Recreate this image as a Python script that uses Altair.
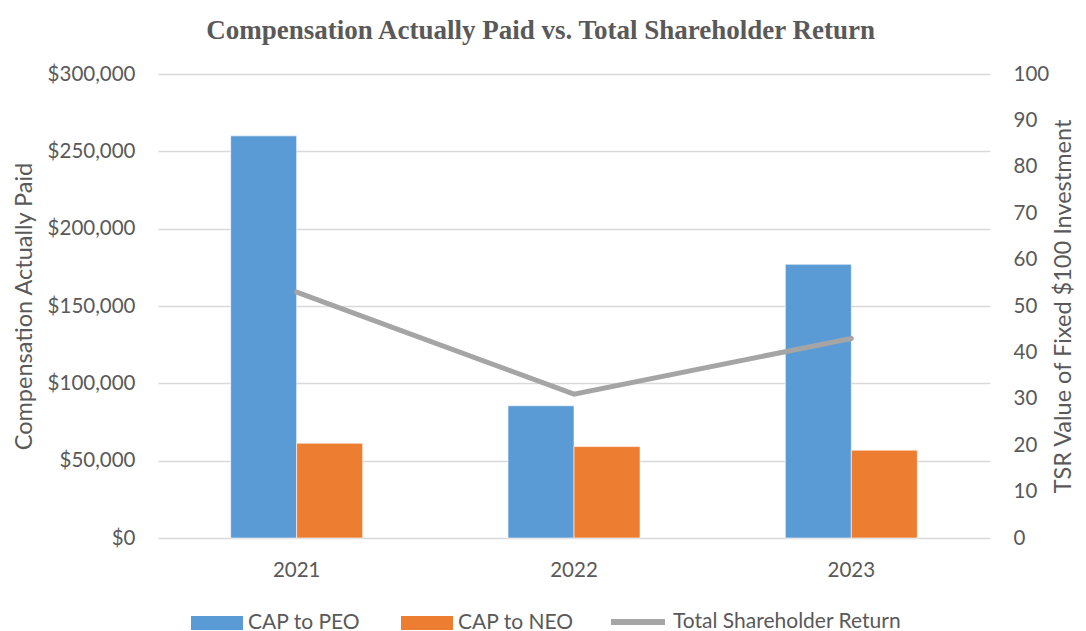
import altair as alt
import pandas as pd

years = ["2021", "2022", "2023"]
cap_peo = [260000, 85500, 177000]
cap_neo = [61300, 59100, 56800]
tsr = [53, 31, 43]
bar_series = ["CAP to PEO", "CAP to NEO"]
line_series = ["Total Shareholder Return"]
left_ticks = [0, 50000, 100000, 150000, 200000, 250000, 300000]
right_ticks = [0, 10, 20, 30, 40, 50, 60, 70, 80, 90, 100]

bars_df = pd.DataFrame({
    "year": years * 2,
    "series": [bar_series[0]] * 3 + [bar_series[1]] * 3,
    "value": cap_peo + cap_neo,
})
line_df = pd.DataFrame({"year": years, "series": line_series * 3, "tsr": tsr})

FONT = "Lato"
TXT = "#595959"
BLUE, ORANGE, GRAY = "#5B9BD5", "#ED7D31", "#A5A5A5"
TICK_FS = 20.5
TITLE_FS = 23.5
LEG_FS = 21

xenc = alt.X(
    "year:N", title=None,
    scale=alt.Scale(paddingInner=0.524, paddingOuter=0.262),
    axis=alt.Axis(labelAngle=0, domain=False, ticks=False, grid=False,
                  labelFontSize=TICK_FS, labelColor=TXT, labelFont=FONT, labelPadding=22),
)

bars = alt.Chart(bars_df).mark_bar(stroke="white", strokeWidth=0.6).encode(
    x=xenc,
    xOffset=alt.XOffset("series:N", sort=bar_series,
                        scale=alt.Scale(domain=bar_series, paddingInner=0, paddingOuter=0)),
    y=alt.Y("value:Q", scale=alt.Scale(domain=[0, 300000], nice=False),
            axis=alt.Axis(values=left_ticks, format="$,.0f", title="Compensation Actually Paid",
                          grid=True, gridColor="#D9D9D9", gridWidth=1.3, domain=False, ticks=False,
                          labelFontSize=TICK_FS, labelColor=TXT, labelFont=FONT, labelPadding=23,
                          titleFontSize=TITLE_FS, titleColor=TXT, titleFont=FONT,
                          titleFontWeight="normal", titlePadding=11)),
    fill=alt.Fill("series:N", sort=bar_series,
                  scale=alt.Scale(domain=bar_series, range=[BLUE, ORANGE]),
                  legend=alt.Legend(title=None, orient="none", direction="horizontal",
                                    legendX=33, legendY=523,
                                    symbolType="M-1,-0.27H1V0.27H-1Z", symbolSize=2704,
                                    symbolStrokeWidth=0, labelFontSize=LEG_FS, labelColor=TXT,
                                    labelFont=FONT, columnPadding=40, labelOffset=5,
                                    labelLimit=400)),
)

line = alt.Chart(line_df).mark_line(strokeWidth=5, strokeCap="round").encode(
    x=alt.X("year:N"),
    y=alt.Y("tsr:Q", scale=alt.Scale(domain=[0, 100], nice=False),
            axis=alt.Axis(orient="right", values=right_ticks, grid=False, domain=False, ticks=False,
                          title="TSR Value of Fixed $100 Investment", titleAngle=270,
                          labelFontSize=TICK_FS, labelColor=TXT, labelFont=FONT, labelPadding=23,
                          titleFontSize=TITLE_FS, titleColor=TXT, titleFont=FONT,
                          titleFontWeight="normal", titlePadding=27)),
    stroke=alt.Stroke("series:N", scale=alt.Scale(domain=line_series, range=[GRAY]),
                      legend=alt.Legend(title=None, orient="none", direction="horizontal",
                                        legendX=450, legendY=518,
                                        symbolType="stroke", symbolSize=2916, symbolStrokeWidth=6,
                                        labelFontSize=LEG_FS, labelColor=TXT, labelFont=FONT,
                                        labelOffset=5, labelLimit=400)),
)

chart = alt.layer(bars, line).resolve_scale(y="independent").properties(
    width=832, height=464,
    title=alt.TitleParams("Compensation Actually Paid vs. Total Shareholder Return",
                          font="Liberation Serif", fontSize=27, fontWeight="bold", color=TXT,
                          anchor="middle", frame="bounds", offset=19, dx=-3),
    autosize=alt.AutoSizeParams(type="none"),
    padding={"left": 150, "top": 66, "right": 88, "bottom": 93},
).configure_view(stroke=None)

chart.save("out.html", embed_options={"renderer": "svg", "actions": False})
